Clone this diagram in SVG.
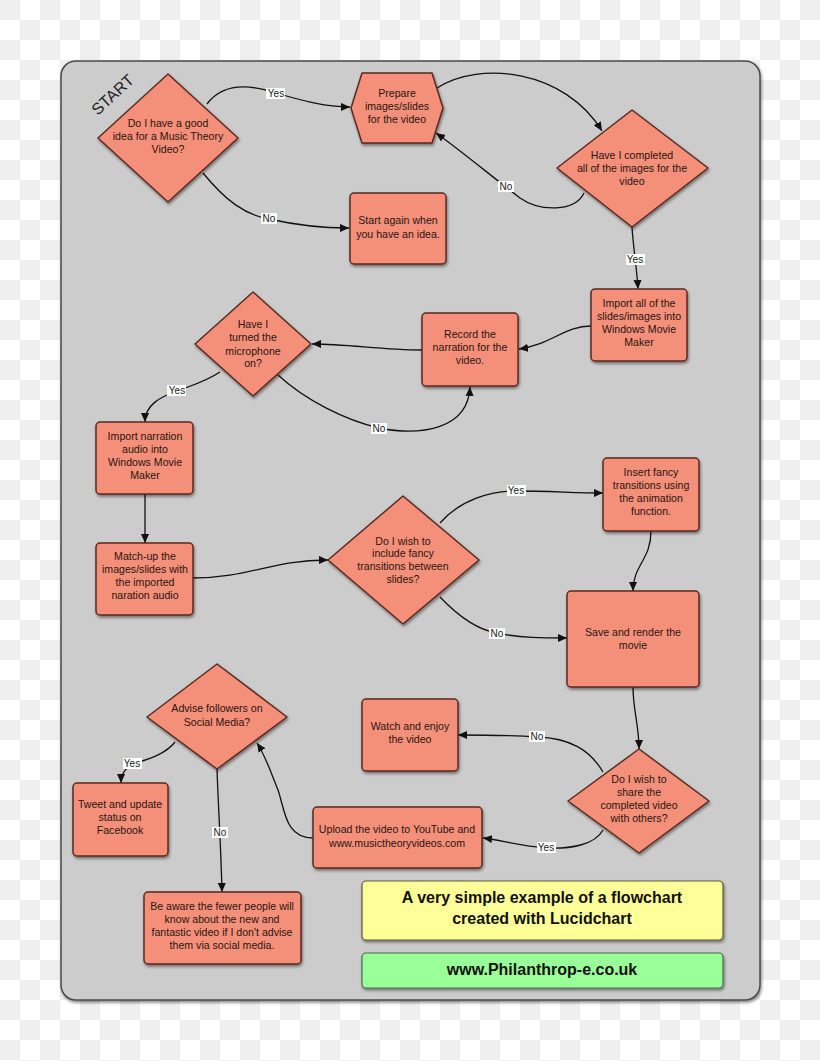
<svg xmlns="http://www.w3.org/2000/svg" width="820" height="1061" viewBox="0 0 820 1061">
<defs>
<pattern id="chk" width="40" height="40" patternUnits="userSpaceOnUse">
<rect width="40" height="40" fill="#ffffff"/>
<rect x="0" y="0" width="20" height="20" fill="#efefef"/>
<rect x="20" y="20" width="20" height="20" fill="#efefef"/>
</pattern>
<filter id="sh" x="-20%" y="-20%" width="140%" height="140%">
<feDropShadow dx="1" dy="2" stdDeviation="1.5" flood-color="#000" flood-opacity="0.45"/>
</filter>
<marker id="ah" viewBox="0 0 10 10" refX="10" refY="5" markerWidth="9" markerHeight="9" markerUnits="userSpaceOnUse" orient="auto">
<path d="M0,0.5 L10,5 L0,9.5 Z" fill="#111"/>
</marker>
<style>
.n{fill:#f4907a;stroke:#5a2a20;stroke-width:1.5;stroke-linejoin:round;filter:url(#sh)}
.t{font-family:"Liberation Sans",Arial,sans-serif;font-size:10.6px;fill:#2a1410;text-anchor:middle}
.c{fill:none;stroke:#111;stroke-width:1.3;marker-end:url(#ah)}
.lb{fill:#ffffff}
.lt{font-family:"Liberation Sans",Arial,sans-serif;font-size:10px;fill:#222;text-anchor:middle}
.big{font-family:"Liberation Sans",Arial,sans-serif;font-size:16px;font-weight:bold;fill:#111;text-anchor:middle}
</style>
</defs>
<rect width="820" height="1061" fill="url(#chk)"/>
<rect x="61" y="61" width="699" height="939" rx="15" fill="#cccccc" stroke="#4a4a4a" stroke-width="1.5" filter="url(#sh)"/>
<text x="113" y="100" transform="rotate(-43 113 95)" font-family="Liberation Sans,Arial,sans-serif" font-size="16" fill="#222" text-anchor="middle">START</text>

<g id="connectors">
<path class="c" d="M207,104 C225,80 255,86 276,93 C300,100 325,107 350,107"/>
<path class="c" d="M203,173 C225,200 245,215 269,219 C300,226 325,228 349,228"/>
<path class="c" d="M437,88 C480,60 565,70 602,131"/>
<path class="c" d="M584,193 C575,212 540,212 520,198 C490,175 460,150 436,133"/>
<path class="c" d="M632,227 C633,245 637,270 638,289"/>
<path class="c" d="M591,326 C565,326 550,345 519,349"/>
<path class="c" d="M422,350 C380,350 350,344 312,344"/>
<path class="c" d="M220,372 C205,382 190,386 177,391 C160,397 145,405 145,422"/>
<path class="c" d="M278,375 C305,400 345,420 379,428 C420,436 468,430 470,387"/>
<path class="c" d="M145,494 L145,543"/>
<path class="c" d="M193,578 C250,578 270,560 328,560"/>
<path class="c" d="M440,523 C460,500 490,491 516,491 C550,491 575,493 603,493"/>
<path class="c" d="M440,597 C460,618 478,630 497,633 C520,638 545,638 567,638"/>
<path class="c" d="M651,531 C651,560 633,565 633,591"/>
<path class="c" d="M633,687 C633,710 639,725 639,749"/>
<path class="c" d="M603,772 C590,750 570,738 537,737 C510,735 480,735 458,735"/>
<path class="c" d="M603,830 C595,845 570,849 547,848 C520,846 500,840 483,838"/>
<path class="c" d="M313,838 C285,838 285,810 278,790 C270,770 265,755 257,743"/>
<path class="c" d="M175,742 C165,755 145,760 133,764 C125,768 121,775 121,783"/>
<path class="c" d="M217,769 C218,800 221,850 222,892"/>
<g id="labels">
<rect class="lb" x="266" y="88" width="19" height="11"/><text class="lt" x="276" y="97">Yes</text>
<rect class="lb" x="261" y="213" width="16" height="11"/><text class="lt" x="269" y="222">No</text>
<rect class="lb" x="498" y="181" width="16" height="11"/><text class="lt" x="506" y="190">No</text>
<rect class="lb" x="626" y="254" width="19" height="11"/><text class="lt" x="635" y="263">Yes</text>
<rect class="lb" x="167" y="385" width="19" height="11"/><text class="lt" x="177" y="394">Yes</text>
<rect class="lb" x="371" y="423" width="16" height="11"/><text class="lt" x="379" y="432">No</text>
<rect class="lb" x="507" y="485" width="19" height="11"/><text class="lt" x="516" y="494">Yes</text>
<rect class="lb" x="489" y="628" width="16" height="11"/><text class="lt" x="497" y="637">No</text>
<rect class="lb" x="529" y="731" width="16" height="11"/><text class="lt" x="537" y="740">No</text>
<rect class="lb" x="537" y="842" width="19" height="11"/><text class="lt" x="546" y="851">Yes</text>
<rect class="lb" x="123" y="758" width="19" height="11"/><text class="lt" x="132" y="767">Yes</text>
<rect class="lb" x="212" y="827" width="16" height="11"/><text class="lt" x="220" y="836">No</text>
</g>
</g>

<g id="n1"><path class="n" d="M168,74 L238,138 L168,202 L98,138 Z"/>
<text class="t"><tspan x="168" y="127">Do I have a good</tspan><tspan x="168" y="140">idea for a Music Theory</tspan><tspan x="168" y="153">Video?</tspan></text></g>
<g id="n2"><path class="n" d="M351,108 L362,73 L432,73 L443,108 L432,143 L362,143 Z"/>
<text class="t"><tspan x="397" y="97">Prepare</tspan><tspan x="397" y="110">images/slides</tspan><tspan x="397" y="123">for the video</tspan></text></g>
<g id="n3"><rect class="n" x="350" y="193" width="96" height="71" rx="4"/>
<text class="t"><tspan x="398" y="224">Start again when</tspan><tspan x="398" y="238">you have an idea.</tspan></text></g>
<g id="n4"><path class="n" d="M632,110 L708,168 L632,227 L557,168 Z"/>
<text class="t"><tspan x="632" y="159">Have I completed</tspan><tspan x="632" y="172">all of the images for the</tspan><tspan x="632" y="185">video</tspan></text></g>
<g id="n5"><rect class="n" x="591" y="289" width="96" height="72" rx="4"/>
<text class="t"><tspan x="639" y="307">Import all of the</tspan><tspan x="639" y="320">slides/images into</tspan><tspan x="639" y="333">Windows Movie</tspan><tspan x="639" y="346">Maker</tspan></text></g>
<g id="n6"><rect class="n" x="422" y="313" width="96" height="73" rx="4"/>
<text class="t"><tspan x="470" y="338">Record the</tspan><tspan x="470" y="351">narration for the</tspan><tspan x="470" y="364">video.</tspan></text></g>
<g id="n7"><path class="n" d="M253,292 L311,344 L253,396 L195,344 Z"/>
<text class="t"><tspan x="253" y="328">Have I</tspan><tspan x="253" y="341">turned the</tspan><tspan x="253" y="355">microphone</tspan><tspan x="253" y="367">on?</tspan></text></g>
<g id="n8"><rect class="n" x="96" y="422" width="97" height="72" rx="4"/>
<text class="t"><tspan x="145" y="440">Import narration</tspan><tspan x="145" y="453">audio into</tspan><tspan x="145" y="466">Windows Movie</tspan><tspan x="145" y="479">Maker</tspan></text></g>
<g id="n9"><rect class="n" x="96" y="543" width="97" height="72" rx="4"/>
<text class="t"><tspan x="145" y="560">Match-up the</tspan><tspan x="145" y="573">images/slides with</tspan><tspan x="145" y="586">the imported</tspan><tspan x="145" y="599">naration audio</tspan></text></g>
<g id="n10"><path class="n" d="M403,496 L479,560 L403,624 L328,560 Z"/>
<text class="t"><tspan x="403" y="545">Do I wish to</tspan><tspan x="403" y="557">include fancy</tspan><tspan x="403" y="570">transitions between</tspan><tspan x="403" y="583">slides?</tspan></text></g>
<g id="n11"><rect class="n" x="603" y="458" width="96" height="73" rx="4"/>
<text class="t"><tspan x="651" y="476">Insert fancy</tspan><tspan x="651" y="489">transitions using</tspan><tspan x="651" y="502">the animation</tspan><tspan x="651" y="515">function.</tspan></text></g>
<g id="n12"><rect class="n" x="567" y="591" width="132" height="96" rx="4"/>
<text class="t"><tspan x="633" y="636">Save and render the</tspan><tspan x="633" y="649">movie</tspan></text></g>
<g id="n13"><rect class="n" x="362" y="699" width="96" height="72" rx="4"/>
<text class="t"><tspan x="410" y="730">Watch and enjoy</tspan><tspan x="410" y="743">the video</tspan></text></g>
<g id="n14"><path class="n" d="M639,749 L709,801 L639,853 L568,801 Z"/>
<text class="t"><tspan x="639" y="783">Do I wish to</tspan><tspan x="639" y="796">share the</tspan><tspan x="639" y="809">completed video</tspan><tspan x="639" y="822">with others?</tspan></text></g>
<g id="n15"><rect class="n" x="313" y="807" width="169" height="61" rx="4"/>
<text class="t"><tspan x="397" y="833">Upload the video to YouTube and</tspan><tspan x="397" y="847">www.musictheoryvideos.com</tspan></text></g>
<g id="n16"><path class="n" d="M217,664 L287,717 L217,769 L147,717 Z"/>
<text class="t"><tspan x="217" y="712">Advise followers on</tspan><tspan x="217" y="726">Social Media?</tspan></text></g>
<g id="n17"><rect class="n" x="73" y="783" width="95" height="73" rx="4"/>
<text class="t"><tspan x="120" y="808">Tweet and update</tspan><tspan x="120" y="821">status on</tspan><tspan x="120" y="834">Facebook</tspan></text></g>
<g id="n18"><rect class="n" x="144" y="892" width="157" height="72" rx="4"/>
<text class="t"><tspan x="222" y="910">Be aware the fewer people will</tspan><tspan x="222" y="923">know about the new and</tspan><tspan x="222" y="936">fantastic video if I don't advise</tspan><tspan x="222" y="949">them via social media.</tspan></text></g>
<g id="title"><rect x="362" y="881" width="361" height="59" rx="4" fill="#ffff99" stroke="#5a5a3a" stroke-width="1.2" filter="url(#sh)"/>
<text class="big"><tspan x="542" y="903">A very simple example of a flowchart</tspan><tspan x="542" y="924">created with Lucidchart</tspan></text></g>
<g id="url"><rect x="362" y="953" width="361" height="35" rx="4" fill="#99ff99" stroke="#4a6a4a" stroke-width="1.2" filter="url(#sh)"/>
<text class="big" x="542" y="975">www.Philanthrop-e.co.uk</text></g>
</svg>
